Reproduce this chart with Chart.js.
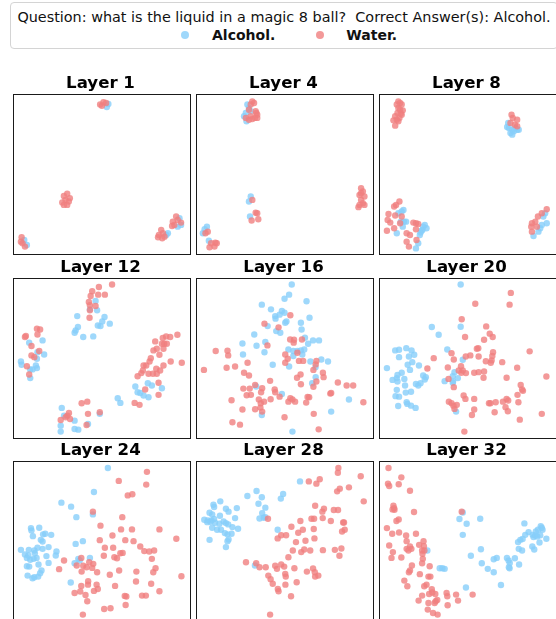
<!DOCTYPE html>
<html>
<head>
<meta charset="utf-8">
<script src="https://cdn.jsdelivr.net/npm/chart.js@4"></script>
<style>
  html, body { margin: 0; padding: 0; background: #fff; }
  body { width: 556px; height: 619px; position: relative; overflow: hidden; font-family: "DejaVu Sans", sans-serif; }
  #legend { position: absolute; left: 10px; top: 2px; width: 548px; height: 47px; box-sizing: border-box;
            border: 1px solid #d4d4d4; border-radius: 4px; background: #fff; }
  .q { position: absolute; left: 0; top: 5.5px; width: 100%; font-size: 14.4px; line-height: 17px; color: #111;
       white-space: pre; text-align: center; }
  .lab { position: absolute; top: 26.7px; font-size: 14px; line-height: 17px; font-weight: bold; color: #111; white-space: pre; }
  .dot { position: absolute; top: 31px; width: 8px; height: 8px; border-radius: 50%; }
  canvas { position: absolute; }
</style>
</head>
<body>
<div id="legend">
  <div class="q" id="question"></div>
</div>
<script>
// ---- header text ----
const questionText = "Question: what is the liquid in a magic 8 ball?  Correct Answer(s): Alcohol.";
const seriesNames = ["Alcohol.", "Water."];
const seriesColors = ["rgba(135,206,250,0.8)", "rgba(240,128,128,0.8)"];

// ---- panel titles ----
const layers = [1, 4, 8, 12, 16, 20, 24, 28, 32];

// ---- 2-D projections per layer (x, y in 0..100) ----
const alcohol_L1 = [[54.2,93.8],[53.3,91.9],[7.9,6.2],[6.4,9.3],[87.1,12.4],[88.0,13.5],[94.6,22.8],[95.5,18.7],[93.6,17.6]];
const water_L1 = [[49.5,93.4],[51.4,94.8],[52.9,94.4],[50.5,92.7],[28.9,36.7],[30.8,38.0],[29.8,34.2],[28.0,32.6],[31.7,33.2],[30.8,31.1],[28.9,31.1],[32.3,35.3],[4.9,11.0],[4.5,8.3],[5.4,7.3],[6.8,5.2],[84.2,15.6],[82.9,12.4],[85.2,13.5],[82.4,11.0],[86.1,11.4],[84.8,10.4],[92.7,23.9],[90.8,20.7],[93.6,21.8],[91.7,18.7],[95.5,20.1],[90.4,18.0]];

const alcohol_L4 = [[29.2,93.4],[30.1,91.3],[28.3,88.2],[27.3,86.1],[28.7,83.0],[31.1,89.2],[31.1,36.3],[30.1,33.2],[30.7,23.9],[4.9,16.0],[6.2,17.6],[3.9,13.5],[7.3,8.9]];
const water_L4 = [[32.0,95.4],[31.1,93.4],[33.0,94.4],[30.1,90.2],[33.9,89.2],[34.8,87.1],[33.5,85.1],[32.0,84.4],[30.1,84.0],[28.3,85.1],[34.8,85.1],[34.3,88.2],[31.1,86.1],[32.0,34.2],[33.9,26.3],[34.8,25.9],[31.6,21.4],[35.4,22.2],[6.7,14.5],[5.4,13.5],[8.6,7.3],[11.0,7.7],[7.7,4.8],[10.5,5.2],[11.8,7.3],[93.8,41.5],[94.8,39.4],[92.9,37.3],[95.7,36.3],[93.8,34.2],[94.8,32.2],[92.9,31.1],[95.7,31.1],[92.3,29.7],[93.8,38.4]];

const alcohol_L8 = [[73.4,82.0],[73.8,78.8],[75.7,77.8],[76.6,76.8],[78.5,77.8],[79.4,77.8],[77.5,78.8],[74.7,75.7],[75.7,74.7],[72.8,79.5],[12.9,27.0],[13.9,28.0],[11.0,25.9],[12.4,20.7],[14.2,20.7],[15.4,20.7],[13.5,17.6],[10.1,13.5],[26.0,18.7],[25.1,17.6],[27.0,16.6],[24.7,15.6],[23.2,12.4],[24.2,15.1],[22.3,7.3],[21.0,4.1],[23.6,13.9],[93.4,23.9],[95.3,19.7],[92.5,18.7],[91.6,16.6],[90.6,14.5],[87.8,11.8],[94.4,25.9]];
const water_L8 = [[11.0,95.4],[12.0,94.4],[10.1,93.4],[12.9,93.4],[11.0,91.3],[12.0,90.2],[13.5,89.8],[10.5,88.2],[12.4,87.8],[9.2,86.1],[11.6,85.1],[10.1,84.0],[8.2,83.6],[11.0,83.0],[9.2,80.3],[12.9,87.1],[75.3,87.1],[76.0,85.1],[78.5,84.0],[74.7,82.0],[78.5,79.9],[77.2,80.9],[11.6,33.2],[9.7,31.1],[8.6,30.1],[5.4,25.5],[9.2,24.5],[4.9,21.8],[6.4,20.1],[8.6,16.6],[4.5,15.1],[12.9,23.9],[12.0,19.7],[15.7,13.5],[17.6,12.4],[21.0,19.7],[19.5,20.1],[22.3,19.3],[15.7,8.3],[17.0,5.2],[21.3,9.3],[21.0,16.0],[95.3,28.4],[92.5,25.9],[90.3,23.9],[88.8,20.7],[86.9,19.7],[86.5,17.6],[89.7,17.6],[86.9,14.5]];

const alcohol_L12 = [[46.9,85.7],[47.8,79.9],[43.7,80.5],[52.0,75.7],[50.7,73.0],[48.2,70.5],[49.7,70.1],[55.0,71.6],[36.5,76.3],[36.9,69.5],[35.6,67.4],[35.0,66.0],[39.9,63.3],[45.6,63.7],[16.8,61.2],[9.2,59.8],[17.7,52.5],[13.9,53.9],[13.6,49.8],[4.5,48.1],[4.9,46.1],[13.0,45.6],[13.6,44.0],[9.8,43.2],[11.1,43.2],[9.8,37.8],[76.6,34.6],[78.9,33.2],[69.5,32.6],[84.6,31.5],[70.8,29.0],[72.3,28.6],[74.2,27.0],[77.0,25.9],[59.5,25.3],[61.0,22.4],[27.7,19.3],[29.0,14.5],[49.3,15.6],[35.0,11.4],[27.1,8.3],[42.6,9.3],[35.0,6.2],[37.1,5.8],[27.1,4.6]];
const water_L12 = [[56.3,95.9],[48.8,94.4],[45.0,91.7],[44.1,88.8],[48.4,89.6],[52.2,89.6],[43.1,85.1],[43.7,83.0],[46.9,82.6],[43.7,79.9],[43.5,75.3],[13.6,68.5],[15.4,68.0],[7.3,63.9],[13.9,64.9],[6.8,63.3],[10.5,57.7],[14.9,54.6],[10.5,51.9],[12.1,50.8],[7.9,45.2],[9.2,40.0],[93.4,64.7],[87.0,63.7],[89.3,63.3],[85.1,62.7],[80.8,60.6],[85.9,59.1],[87.4,59.1],[84.6,59.1],[81.7,56.0],[85.5,56.0],[79.8,55.0],[83.2,52.3],[78.3,50.2],[89.6,48.1],[77.6,48.1],[75.7,45.6],[74.2,45.6],[85.5,45.6],[95.9,47.3],[81.4,43.6],[83.6,42.5],[73.8,42.5],[77.0,40.5],[79.5,40.5],[72.9,40.9],[70.8,39.0],[81.7,40.5],[75.1,30.7],[82.7,34.9],[82.7,27.4],[69.1,22.4],[71.9,21.2],[39.0,22.2],[42.2,23.2],[31.8,16.2],[30.9,14.5],[29.9,13.5],[32.4,12.4],[42.6,15.6],[49.3,16.6],[27.1,11.8],[41.8,8.7]];

const alcohol_L16 = [[54.4,95.9],[52.9,89.6],[50.3,87.1],[62.8,85.5],[37.4,83.4],[42.6,80.5],[48.8,79.5],[50.3,78.4],[47.5,77.2],[45.0,76.3],[45.2,74.7],[64.5,75.3],[50.7,72.2],[51.4,73.0],[40.7,70.1],[59.6,72.2],[45.6,67.0],[47.9,66.0],[60.0,68.0],[33.1,64.9],[61.9,62.9],[66.5,61.2],[69.9,61.2],[26.4,59.3],[34.4,57.9],[39.4,60.2],[63.7,59.1],[52.5,55.6],[55.3,54.6],[57.6,54.6],[59.6,55.0],[61.5,55.6],[38.9,53.9],[26.7,52.5],[55.3,51.5],[71.2,49.4],[75.0,48.1],[65.0,48.1],[43.6,46.1],[52.9,45.0],[67.9,44.6],[68.0,38.4],[66.0,34.6],[34.2,32.6],[48.8,28.0],[86.9,24.5],[76.8,17.0],[37.4,14.9],[54.8,4.6],[60.4,52.5]];
const water_L16 = [[53.6,76.8],[38.9,71.6],[46.9,69.3],[53.5,61.8],[55.7,61.6],[60.2,61.8],[55.5,59.8],[40.6,58.1],[11.2,54.6],[17.9,54.8],[18.3,51.9],[57.6,53.5],[50.7,52.5],[52.1,49.8],[29.3,47.3],[50.7,47.3],[58.5,48.5],[60.9,48.5],[68.4,48.5],[68.0,46.3],[17.4,44.2],[22.2,45.0],[4.5,42.9],[66.7,42.9],[27.3,41.1],[30.1,39.4],[59.4,40.0],[72.1,41.1],[57.4,38.0],[72.5,38.4],[42.1,36.1],[33.6,33.6],[59.6,34.0],[80.6,35.1],[68.4,35.7],[66.7,32.4],[85.6,33.2],[89.3,33.2],[26.9,31.3],[30.5,31.3],[37.6,31.5],[28.8,27.2],[31.2,27.4],[37.0,29.0],[44.7,30.7],[45.0,29.0],[76.3,28.2],[76.8,28.6],[20.2,24.1],[35.7,24.5],[38.7,23.2],[36.8,22.2],[42.4,24.7],[47.5,26.3],[53.6,25.3],[54.8,24.5],[56.3,23.2],[52.5,23.2],[63.4,26.1],[64.3,25.9],[62.6,22.6],[95.1,22.8],[26.4,18.3],[33.6,18.5],[36.6,19.5],[37.6,17.0],[66.9,15.6],[50.3,13.5],[20.7,10.4],[25.0,8.9],[69.7,6.0]];

const alcohol_L20 = [[46.4,95.9],[30.0,69.5],[33.9,64.7],[46.4,69.7],[9.2,55.0],[11.4,55.4],[15.5,56.4],[18.5,55.0],[20.0,52.3],[11.4,50.8],[17.0,51.2],[18.9,47.7],[16.3,46.1],[22.7,45.6],[4.5,44.0],[12.9,41.1],[10.5,39.8],[17.6,42.9],[7.7,36.7],[10.1,37.8],[10.5,35.7],[14.4,37.3],[25.1,39.4],[26.0,36.9],[26.6,38.4],[38.8,55.6],[47.6,49.2],[42.9,41.5],[44.8,37.8],[41.9,39.0],[37.3,35.9],[41.9,34.9],[14.8,33.2],[21.0,34.2],[23.6,34.6],[22.3,33.2],[10.1,30.5],[15.2,28.8],[18.2,29.3],[9.4,26.6],[11.4,26.3],[15.7,22.8],[16.1,21.8],[18.2,20.7],[20.8,19.3],[10.9,20.5],[43.8,17.0],[42.1,35.7]];
const water_L20 = [[74.9,90.7],[74.2,83.4],[54.7,84.0],[47.0,74.3],[48.9,63.3],[60.9,69.9],[62.9,65.4],[64.6,63.3],[59.7,61.6],[55.6,56.0],[56.4,56.4],[51.9,51.9],[49.3,51.2],[56.6,51.2],[64.8,53.9],[64.4,51.5],[41.2,53.3],[42.5,49.4],[31.1,50.2],[27.5,43.8],[39.1,44.4],[46.6,45.2],[47.6,42.5],[45.3,42.5],[46.8,41.1],[49.4,40.9],[54.1,41.1],[56.6,41.5],[59.7,41.9],[60.7,48.3],[63.5,47.3],[64.0,48.8],[70.0,47.7],[78.5,44.2],[85.6,54.4],[95.1,38.8],[39.5,37.3],[42.5,32.2],[59.4,38.0],[72.5,38.0],[80.5,33.6],[81.3,30.7],[81.8,29.9],[78.7,27.4],[48.1,27.0],[49.1,24.9],[54.1,24.9],[39.7,23.2],[41.2,22.2],[42.3,20.7],[42.9,18.7],[44.2,21.2],[62.5,22.2],[63.3,22.2],[66.3,22.8],[70.4,23.2],[72.5,24.9],[73.4,23.9],[71.9,19.7],[73.2,17.2],[79.2,22.8],[65.7,16.6],[54.1,18.3],[52.8,14.9],[80.0,12.0],[92.5,15.6],[48.5,4.6]];

const alcohol_L24 = [[53.9,95.6],[46.0,80.7],[27.5,74.1],[33.0,71.6],[36.0,65.1],[45.4,66.8],[10.2,58.3],[10.5,56.8],[14.9,58.5],[11.3,53.3],[17.1,54.4],[18.3,54.8],[21.7,54.1],[15.8,51.0],[16.8,50.0],[20.2,46.5],[16.8,45.4],[13.9,46.1],[12.1,44.4],[12.4,42.7],[9.0,44.8],[4.5,44.8],[6.8,41.9],[8.7,41.3],[7.9,39.8],[9.8,38.6],[11.7,39.2],[13.4,39.8],[14.5,35.7],[20.2,36.7],[24.7,43.8],[24.3,41.3],[7.9,34.6],[9.2,34.4],[16.2,32.0],[15.4,30.3],[12.1,27.8],[11.1,27.2],[14.3,28.2],[8.3,28.8],[37.1,39.2],[37.9,38.2],[35.0,36.5],[43.7,39.8],[39.7,50.2],[35.6,48.5],[32.8,24.5],[19.0,40.9]];
const water_L24 = [[76.1,93.2],[60.1,87.6],[75.7,85.3],[65.2,78.6],[67.8,79.3],[45.4,68.5],[62.1,65.1],[49.7,59.8],[56.5,53.7],[61.4,57.5],[67.6,57.5],[83.2,57.5],[49.3,50.8],[63.8,50.8],[68.5,50.2],[92.8,51.7],[72.3,46.9],[74.6,44.0],[77.4,43.8],[80.2,44.4],[52.2,46.1],[56.9,46.1],[62.3,42.9],[61.0,42.7],[51.6,41.1],[57.6,40.2],[59.1,39.6],[78.9,39.2],[29.0,38.2],[38.8,39.8],[43.3,37.1],[45.6,36.1],[41.8,34.0],[39.9,34.9],[36.2,35.1],[45.0,33.6],[47.8,30.9],[26.2,32.8],[39.0,31.3],[55.0,29.3],[60.3,32.0],[70.1,31.3],[81.0,33.4],[79.7,30.9],[95.7,28.4],[42.7,25.3],[42.6,23.2],[47.5,23.2],[38.8,22.4],[58.0,22.4],[69.9,25.1],[78.5,23.7],[38.2,18.9],[35.0,18.0],[46.0,19.3],[48.2,20.5],[83.2,19.1],[41.2,16.8],[63.5,16.2],[64.4,15.8],[73.3,16.4],[75.5,16.4],[42.2,12.9],[51.8,8.1],[55.4,8.5],[64.0,10.6],[39.7,4.6]];

const alcohol_L28 = [[59.1,87.3],[49.5,79.5],[34.4,81.3],[29.2,78.2],[37.4,77.4],[35.5,73.4],[39.4,71.0],[37.6,67.6],[39.4,65.1],[36.1,64.3],[38.5,64.7],[13.8,74.9],[17.0,70.3],[18.5,68.5],[23.2,70.7],[9.9,72.8],[10.3,71.4],[7.7,67.8],[9.2,66.8],[13.6,66.0],[10.3,63.9],[8.8,63.1],[6.4,62.0],[4.7,63.5],[6.7,63.1],[8.2,62.2],[10.8,61.6],[13.3,61.0],[15.7,62.4],[17.0,61.4],[18.3,60.6],[22.2,64.5],[20.7,58.9],[9.2,58.5],[12.0,57.3],[14.2,57.3],[16.4,55.2],[17.9,54.4],[20.2,54.8],[23.9,57.9],[18.5,51.2],[17.9,50.2],[17.0,46.5],[7.7,51.0],[46.4,57.3],[33.5,35.1],[48.2,76.6]];
const water_L28 = [[80.9,95.6],[80.6,92.7],[93.6,90.5],[70.3,88.6],[64.1,87.3],[68.4,85.9],[81.7,82.8],[80.2,81.1],[86.9,83.6],[95.3,74.9],[67.7,72.2],[72.7,70.3],[71.8,68.5],[78.3,69.5],[80.7,69.5],[40.9,64.1],[59.3,62.7],[65.6,64.1],[67.1,64.1],[72.0,64.5],[76.6,62.7],[83.6,61.8],[84.1,61.8],[83.0,56.2],[84.5,57.3],[54.2,59.1],[58.1,55.4],[60.7,57.3],[66.9,57.7],[46.4,51.9],[48.4,53.9],[51.2,53.9],[67.3,51.9],[56.8,49.6],[62.2,50.4],[55.0,44.4],[61.5,45.0],[59.8,43.4],[64.9,44.4],[72.1,44.6],[78.9,44.8],[82.6,45.6],[81.5,41.1],[52.5,40.2],[28.4,37.1],[34.2,36.5],[36.1,34.0],[39.6,34.0],[45.0,34.9],[48.4,35.7],[50.1,34.4],[46.0,33.0],[55.9,33.4],[63.0,31.3],[66.5,33.2],[67.5,30.9],[67.7,28.2],[69.5,28.8],[41.1,28.8],[50.7,29.9],[51.0,28.2],[42.4,26.6],[43.6,23.7],[50.8,23.2],[57.2,24.7],[46.5,20.5],[46.9,19.1],[54.0,16.0],[42.1,4.6]];

const alcohol_L32 = [[47.6,68.0],[45.7,63.9],[49.8,61.0],[57.5,64.1],[47.6,54.1],[27.5,44.4],[57.9,45.2],[52.2,41.1],[34.5,33.4],[36.0,33.4],[37.3,33.0],[58.4,36.5],[61.8,33.0],[65.2,30.9],[65.2,39.0],[66.9,39.8],[72.7,39.8],[73.6,38.2],[74.3,36.7],[77.2,39.6],[79.6,35.7],[73.8,34.0],[74.2,33.4],[69.3,23.0],[49.4,21.4],[82.6,61.2],[80.3,51.0],[79.0,49.6],[81.6,51.5],[83.1,54.1],[85.0,55.8],[87.3,54.1],[89.1,56.2],[89.9,53.1],[91.6,53.9],[91.9,59.5],[92.5,58.5],[92.9,57.3],[90.3,57.3],[87.8,52.7],[88.8,53.7],[95.1,51.7],[91.2,49.4],[87.1,46.9],[88.2,45.0],[79.4,45.4],[81.3,44.4]];
const water_L32 = [[5.4,95.6],[12.7,89.8],[5.1,85.9],[5.8,84.4],[11.2,85.5],[17.6,81.5],[8.2,72.2],[8.6,70.7],[7.7,69.9],[8.8,69.7],[19.9,68.3],[11.2,63.7],[9.9,62.7],[47.0,68.5],[4.5,58.3],[11.4,55.6],[7.5,54.8],[21.0,54.8],[15.4,53.7],[15.7,50.2],[25.3,50.2],[22.8,47.9],[25.5,47.1],[5.8,47.5],[17.6,46.9],[15.7,45.4],[18.4,45.4],[16.7,44.4],[7.9,43.4],[24.5,44.4],[25.8,44.4],[24.7,42.3],[7.1,39.8],[12.7,40.0],[24.9,39.2],[24.5,36.5],[18.7,35.1],[28.8,34.6],[17.6,32.0],[17.0,30.9],[23.2,29.7],[28.1,28.2],[29.2,28.2],[14.4,25.7],[16.1,22.2],[25.7,22.2],[27.0,23.2],[30.0,20.3],[30.3,18.3],[32.0,17.4],[24.5,16.4],[28.5,17.4],[38.4,18.0],[43.8,17.0],[53.2,17.0],[32.2,12.9],[31.6,11.8],[22.5,13.3],[28.1,11.8],[33.1,13.7],[38.8,16.0],[44.9,13.3],[39.0,10.4],[27.7,7.7],[30.7,5.6],[33.3,4.6]];

const alcoholByLayer = [alcohol_L1, alcohol_L4, alcohol_L8, alcohol_L12, alcohol_L16, alcohol_L20, alcohol_L24, alcohol_L28, alcohol_L32];
const waterByLayer = [water_L1, water_L4, water_L8, water_L12, water_L16, water_L20, water_L24, water_L28, water_L32];

// ---- header ----
document.getElementById('question').textContent = questionText;
(function buildLegend() {
  const box = document.getElementById('legend');
  const items = [
    { dotLeft: 170.3, textLeft: 201 },
    { dotLeft: 304.7, textLeft: 335.3 }
  ];
  items.forEach((it, i) => {
    const d = document.createElement('div');
    d.className = 'dot';
    d.style.left = it.dotLeft + 'px';
    d.style.top = (31 - 3) + 'px';
    d.style.background = seriesColors[i];
    box.appendChild(d);
    const t = document.createElement('div');
    t.className = 'lab';
    t.style.left = it.textLeft + 'px';
    t.style.top = (26.7 - 3) + 'px';
    t.textContent = seriesNames[i];
    box.appendChild(t);
  });
})();

// ---- panel grid ----
Chart.defaults.font.family = "'DejaVu Sans', sans-serif";
const colLeft = [12, 195, 378];   // left spine pixel column
const rowTop = [94, 278, 461];    // top spine pixel row
const boxW = 177, boxH = 161, titleBand = 24;

const frame = {
  id: 'frame',
  afterDatasetsDraw(chart) {
    const a = chart.chartArea, c = chart.ctx;
    c.save();
    c.strokeStyle = '#1a1a1a';
    c.lineWidth = 1;
    c.strokeRect(Math.round(a.left) + 0.5, Math.round(a.top) + 0.5, boxW, boxH - 1);
    c.restore();
  }
};

const toPts = arr => arr.map(p => ({ x: p[0], y: p[1] }));

layers.forEach((layer, i) => {
  const col = i % 3, row = Math.floor(i / 3);
  const cv = document.createElement('canvas');
  const padL = 3, padR = 4, padB = 4;
  cv.width = padL + boxW + padR;
  cv.height = titleBand + boxH + padB;
  cv.style.left = (colLeft[col] - padL) + 'px';
  cv.style.top = (rowTop[row] - titleBand) + 'px';
  document.body.appendChild(cv);

  new Chart(cv, {
    type: 'scatter',
    data: {
      datasets: [
        { label: seriesNames[0], data: toPts(alcoholByLayer[i]), backgroundColor: seriesColors[0],
          borderWidth: 0, pointRadius: 3.2, order: 1 },
        { label: seriesNames[1], data: toPts(waterByLayer[i]), backgroundColor: seriesColors[1],
          borderWidth: 0, pointRadius: 3.2, order: 0 }
      ]
    },
    options: {
      responsive: false,
      animation: false,
      events: [],
      layout: { padding: { left: padL, right: padR, bottom: padB, top: titleBand - 20 } },
      scales: {
        x: { display: false, min: 0, max: 100 },
        y: { display: false, min: 0, max: 100 }
      },
      plugins: {
        legend: { display: false },
        tooltip: { enabled: false },
        title: {
          display: true,
          text: 'Layer ' + layer,
          color: '#000',
          font: { size: 16.6, weight: 'bold', lineHeight: 1.2 },
          padding: { top: 0, bottom: 0 }
        }
      }
    },
    plugins: [frame]
  });
});
</script>
</body>
</html>
